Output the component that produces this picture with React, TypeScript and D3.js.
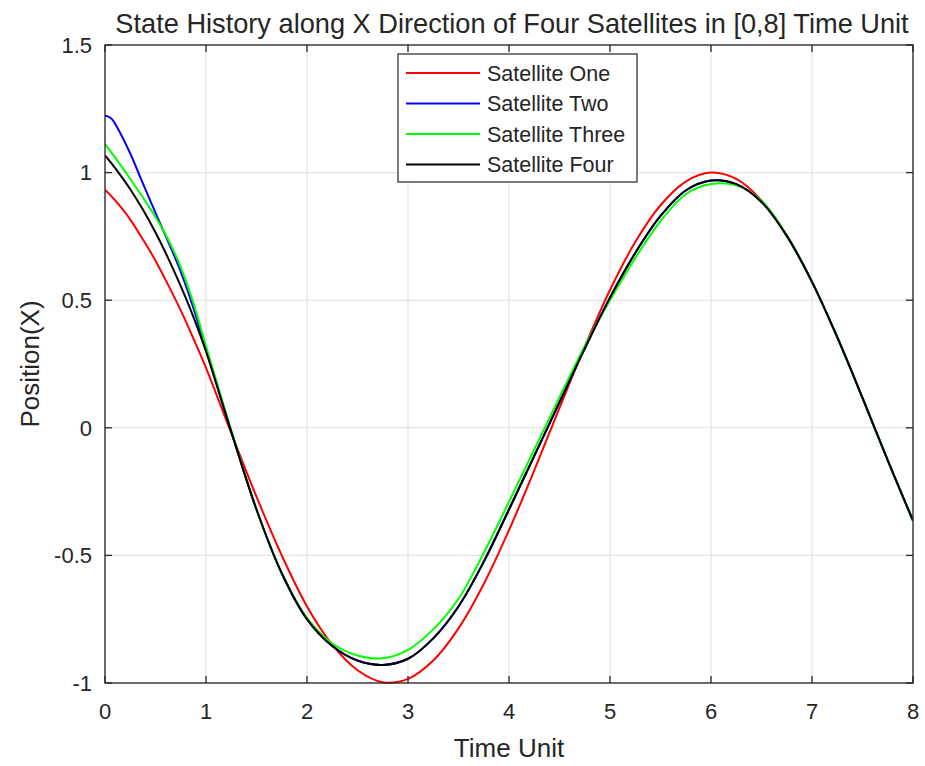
import React from "react";
import * as d3 from "d3";

const TIME = [0, 0.0625, 0.125, 0.25, 0.375, 0.5, 0.625, 0.75, 0.875, 1, 1.25, 1.5, 1.75, 2, 2.25, 2.5, 2.75, 3, 3.25, 3.5, 3.75, 4, 4.25, 4.5, 4.75, 5, 5.25, 5.5, 5.75, 6, 6.25, 6.5, 6.75, 7, 7.25, 7.5, 7.75, 8];

const SAT_ONE = [0.933, 0.908, 0.88, 0.816, 0.738, 0.655, 0.56, 0.46, 0.35, 0.235, -0.02, -0.27, -0.5, -0.7, -0.85, -0.95, -0.997, -0.984, -0.912, -0.786, -0.612, -0.401, -0.167, 0.078, 0.318, 0.54, 0.728, 0.872, 0.965, 1.0, 0.975, 0.891, 0.754, 0.572, 0.355, 0.117, -0.128, -0.364];
const SAT_TWO = [1.224, 1.212, 1.174, 1.075, 0.958, 0.842, 0.73, 0.612, 0.47, 0.305, -0.015, -0.32, -0.57, -0.75, -0.855, -0.912, -0.929, -0.905, -0.825, -0.7, -0.525, -0.32, -0.11, 0.1, 0.31, 0.51, 0.685, 0.83, 0.93, 0.969, 0.955, 0.885, 0.752, 0.572, 0.355, 0.117, -0.128, -0.364];
const SAT_THREE = [1.113, 1.079, 1.045, 0.975, 0.903, 0.826, 0.738, 0.63, 0.49, 0.32, -0.01, -0.32, -0.57, -0.745, -0.845, -0.892, -0.903, -0.87, -0.79, -0.67, -0.49, -0.29, -0.085, 0.12, 0.32, 0.5, 0.665, 0.81, 0.915, 0.955, 0.95, 0.89, 0.755, 0.572, 0.355, 0.117, -0.128, -0.364];
const SAT_FOUR = [1.067, 1.037, 1.005, 0.935, 0.855, 0.765, 0.665, 0.555, 0.435, 0.3, -0.015, -0.32, -0.57, -0.75, -0.855, -0.912, -0.929, -0.905, -0.825, -0.7, -0.525, -0.32, -0.11, 0.1, 0.31, 0.51, 0.685, 0.83, 0.93, 0.969, 0.955, 0.885, 0.752, 0.572, 0.355, 0.117, -0.128, -0.364];

const SERIES_NAMES = ["Satellite One", "Satellite Two", "Satellite Three", "Satellite Four"];
const SERIES_COLORS = ["#ff0000", "#0000ff", "#00ff00", "#000000"];
const SERIES_VALUES = [SAT_ONE, SAT_TWO, SAT_THREE, SAT_FOUR];

const X_TICKS = [0, 1, 2, 3, 4, 5, 6, 7, 8];
const Y_TICKS = [-1, -0.5, 0, 0.5, 1, 1.5];

const TITLE = "State History along X Direction of Four Satellites in [0,8] Time Unit";
const X_LABEL = "Time Unit";
const Y_LABEL = "Position(X)";

export default function App() {
  const W = 925, H = 766;
  const left = 105, right = 913, top = 45, bottom = 683;
  const x = d3.scaleLinear().domain([0, 8]).range([left, right]);
  const y = d3.scaleLinear().domain([-1, 1.5]).range([bottom, top]);
  const axisColor = "#262626";
  const font = "'Liberation Sans', Arial, Helvetica, sans-serif";

  const line = d3
    .line<number>()
    .x((_, i) => x(TIME[i]))
    .y((d) => y(d))
    .curve(d3.curveCatmullRom.alpha(0.5));

  const legX = 398, legY = 54, legW = 239, legH = 128;
  const rowY = [73, 103.5, 134, 164.5];

  return (
    <svg width={W} height={H} style={{ position: "absolute", left: 0, top: 0, background: "#fff" }} fontFamily={font}>
      <rect x={0} y={0} width={W} height={H} fill="#fff" />
      {X_TICKS.map((t) => (
        <line key={"gx" + t} x1={x(t)} x2={x(t)} y1={top} y2={bottom} stroke="#dfdfdf" strokeWidth={1} />
      ))}
      {Y_TICKS.map((t) => (
        <line key={"gy" + t} x1={left} x2={right} y1={y(t)} y2={y(t)} stroke="#dfdfdf" strokeWidth={1} />
      ))}
      <defs>
        <clipPath id="clip">
          <rect x={left} y={top - 2} width={right - left} height={bottom - top + 4} />
        </clipPath>
      </defs>
      <g clipPath="url(#clip)">
        {SERIES_VALUES.map((vals, i) => (
          <path key={SERIES_NAMES[i]} d={line(vals) || ""} fill="none" stroke={SERIES_COLORS[i]} strokeWidth={2} />
        ))}
      </g>
      <rect x={left} y={top} width={right - left} height={bottom - top} fill="none" stroke={axisColor} strokeWidth={1.3} />
      {X_TICKS.map((t) => (
        <g key={"tx" + t}>
          <line x1={x(t)} x2={x(t)} y1={bottom} y2={bottom - 7} stroke={axisColor} strokeWidth={1.3} />
          <line x1={x(t)} x2={x(t)} y1={top} y2={top + 7} stroke={axisColor} strokeWidth={1.3} />
          <text x={x(t)} y={bottom + 36} textAnchor="middle" fontSize={22} fill={axisColor}>
            {String(t)}
          </text>
        </g>
      ))}
      {Y_TICKS.map((t) => (
        <g key={"ty" + t}>
          <line x1={left} x2={left + 7} y1={y(t)} y2={y(t)} stroke={axisColor} strokeWidth={1.3} />
          <line x1={right} x2={right - 7} y1={y(t)} y2={y(t)} stroke={axisColor} strokeWidth={1.3} />
          <text x={left - 13} y={y(t)} dy="0.35em" textAnchor="end" fontSize={22} fill={axisColor}>
            {String(t)}
          </text>
        </g>
      ))}
      <rect x={legX} y={legY} width={legW} height={legH} fill="#fff" stroke={axisColor} strokeWidth={1.2} />
      {SERIES_NAMES.map((name, i) => (
        <g key={"leg" + name}>
          <line x1={406} x2={480} y1={rowY[i]} y2={rowY[i]} stroke={SERIES_COLORS[i]} strokeWidth={2} />
          <text x={487} y={rowY[i]} dy="0.35em" fontSize={21.5} fill={axisColor}>
            {name}
          </text>
        </g>
      ))}
      <text x={512} y={33} textAnchor="middle" fontSize={27.2} fill={axisColor}>
        {TITLE}
      </text>
      <text x={(left + right) / 2} y={757} textAnchor="middle" fontSize={26} fill={axisColor}>
        {X_LABEL}
      </text>
      <text transform={`translate(39, ${(top + bottom) / 2}) rotate(-90)`} textAnchor="middle" fontSize={26} fill={axisColor}>
        {Y_LABEL}
      </text>
    </svg>
  );
}
